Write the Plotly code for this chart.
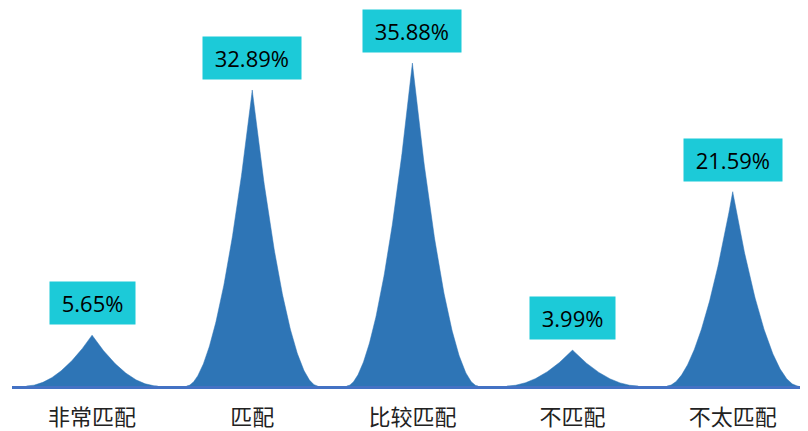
import numpy as np
import plotly.graph_objects as go

categories = ["非常匹配", "匹配", "比较匹配", "不匹配", "不太匹配"]
values = [5.65, 32.89, 35.88, 3.99, 21.59]
labels = ["5.65%", "32.89%", "35.88%", "3.99%", "21.59%"]

PEAK_COLOR = "#2E75B6"
BOX_COLOR = "#1CCAD8"
HALF_W = 0.41

fig = go.Figure()
t = np.linspace(-1, 1, 241)
shape = (1 - np.abs(t)) ** 1.9
for i, v in enumerate(values):
    fig.add_trace(go.Scatter(
        x=i + t * HALF_W, y=v * shape, mode="lines", fill="toself",
        fillcolor=PEAK_COLOR, line=dict(color=PEAK_COLOR, width=0.5),
        hoverinfo="skip", showlegend=False))

for i, (v, lab) in enumerate(zip(values, labels)):
    fig.add_annotation(x=i, y=v, text="&nbsp;" + lab + "&nbsp;", showarrow=False,
                       yshift=32, bgcolor=BOX_COLOR, borderpad=6,
                       font=dict(family="Open Sans", size=22, color="#000000"))

# page body has an 8px margin, so the figure is sized to fit the 808x431 window
fig.update_layout(
    width=800, height=423,
    margin=dict(l=4, r=0, t=18, b=43),
    paper_bgcolor="white", plot_bgcolor="white",
    xaxis=dict(range=[-0.5, 4.47], tickvals=list(range(len(categories))),
               ticktext=categories, showgrid=False, zeroline=False,
               showline=True, linecolor="#4472C4", linewidth=3,
               ticks="", ticklabelstandoff=10,
               tickfont=dict(family="Noto Sans CJK SC", size=22, color="#222222")),
    yaxis=dict(range=[0, 40], visible=False, showgrid=False, zeroline=False),
)
fig.write_html("out.html")
